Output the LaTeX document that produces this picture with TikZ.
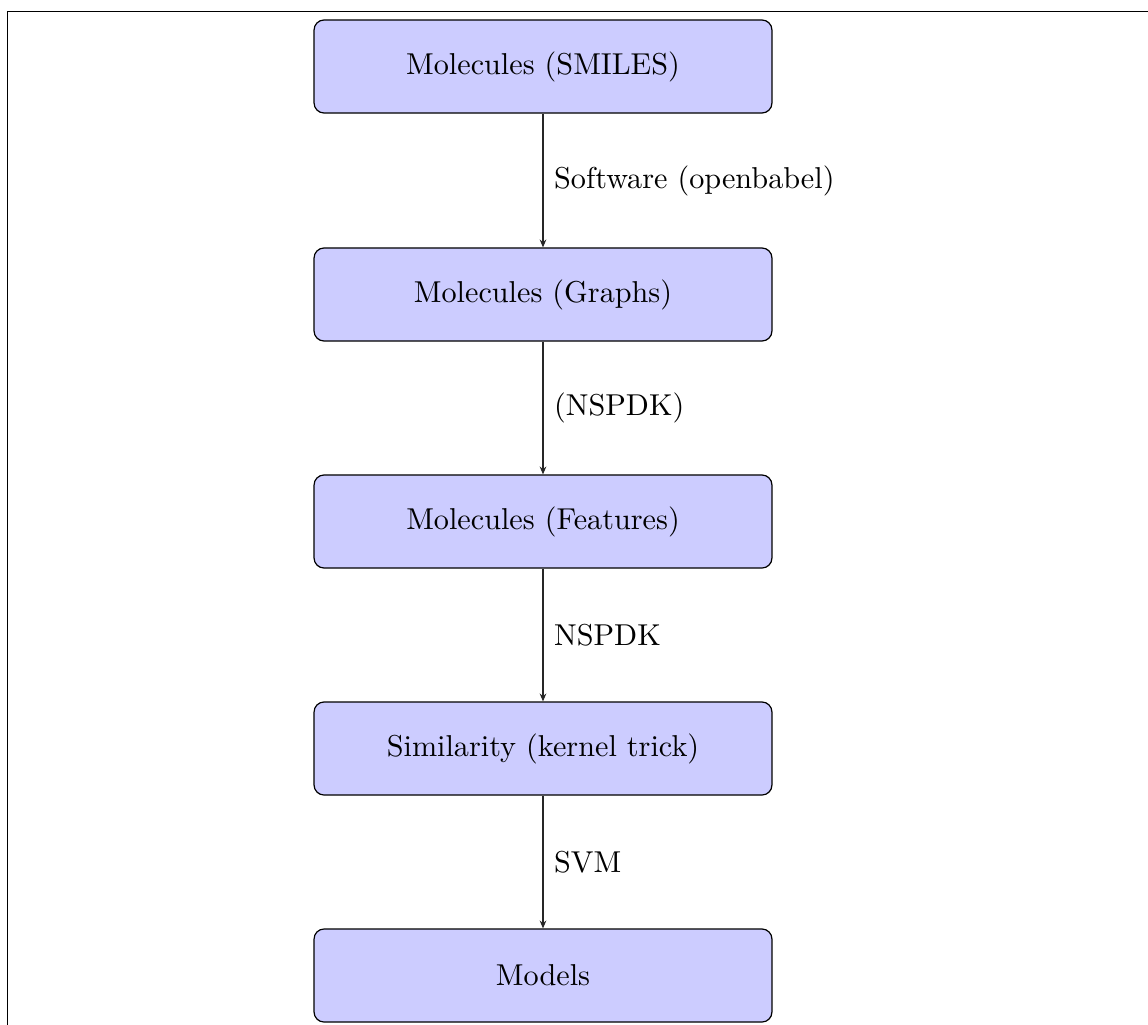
\documentclass[tikz,border=0pt]{standalone}
\usetikzlibrary{arrows.meta}
\begin{document}
\begin{tikzpicture}[x=0.3311pt, y=-0.3311pt,
  stage/.style={draw=black, fill=blue!20, rounded corners=3.3pt, line width=0.4pt,
    minimum width=151.6pt, minimum height=30.8pt, inner sep=0pt},
  flow/.style={draw=black!85, line width=0.4pt, -{Stealth[length=2.6pt, width=2.2pt]}},
  steplabel/.style={anchor=west, inner sep=0pt, xshift=3.5pt}]
  \clip (0,0) rectangle (1148,1024);
  % page frame
  \draw[line width=0.5pt] (7.5,1040) -- (7.5,11.5) -- (1160,11.5);
  % pipeline stages
  \node[stage] (smiles)   at (543,66.5)  {Molecules (SMILES)};
  \node[stage] (graphs)   at (543,294.5) {Molecules (Graphs)};
  \node[stage] (features) at (543,521.5) {Molecules (Features)};
  \node[stage] (sim)      at (543,748.5) {Similarity (kernel trick)};
  \node[stage] (models)   at (543,975.5) {Models};
  % transitions
  \draw[flow] (smiles)   -- node[steplabel] {Software (openbabel)} (graphs);
  \draw[flow] (graphs)   -- node[steplabel] {(NSPDK)} (features);
  \draw[flow] (features) -- node[steplabel] {NSPDK} (sim);
  \draw[flow] (sim)      -- node[steplabel] {SVM} (models);
\end{tikzpicture}
\end{document}
